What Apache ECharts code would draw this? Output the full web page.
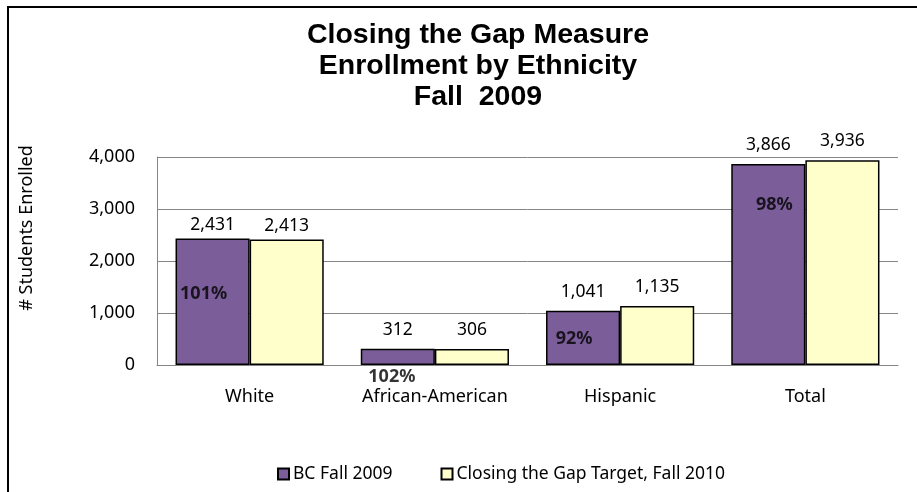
<!DOCTYPE html>
<html>
<head>
<meta charset="utf-8">
<title>Closing the Gap Measure – Enrollment by Ethnicity</title>
<script src="https://cdn.jsdelivr.net/npm/echarts@6/dist/echarts.min.js"></script>
<style>
  html, body { margin: 0; padding: 0; background: #ffffff; }
  #chart { width: 917px; height: 492px; }
</style>
</head>
<body>
<div id="chart"></div>
<script>
// Enrollment counts by ethnicity
const categories = ['White', 'African-American', 'Hispanic', 'Total'];
const bcFall2009 = [2431, 312, 1041, 3866];
const gapTarget2010 = [2413, 306, 1135, 3936];
const seriesNames = ['BC Fall 2009', 'Closing the Gap Target, Fall 2010'];
const yTickValues = [0, 1000, 2000, 3000, 4000];

// Where each "% of target" note sits: value-axis anchor and horizontal nudge (px)
const pctNoteAnchor = [1365, -230, 500, 3077];
const pctNoteShiftX = [-46, -43, -46, -31];

const FONT = '"Noto Sans", "Open Sans", sans-serif';
const fmt = v => v.toLocaleString('en-US');

const chart = echarts.init(document.getElementById('chart'), null, { renderer: 'canvas' });

const valueLabel = (i) => ({
  show: true,
  position: 'top',
  distance: i === 0 ? 5 : 10,
  color: '#000',
  fontFamily: FONT,
  fontSize: 17.5,
  formatter: p => fmt(p.value)
});

chart.setOption({
  animation: false,
  backgroundColor: '#ffffff',
  title: {
    text: 'Closing the Gap Measure\nEnrollment by Ethnicity\nFall  2009',
    left: 478,
    top: 20,
    textAlign: 'center',
    padding: 0,
    textStyle: {
      fontFamily: '"Liberation Sans", Arial, sans-serif',
      fontWeight: 'bold',
      fontSize: 28.5,
      lineHeight: 31,
      color: '#000'
    }
  },
  legend: {
    data: seriesNames,
    left: 272,
    top: 460,
    itemWidth: 11,
    itemHeight: 11,
    itemGap: 48,
    icon: 'rect',
    textStyle: { fontFamily: FONT, fontSize: 17.5, color: '#000', padding: [0, 0, 0, -1] }
  },
  grid: { left: 157, right: 19, top: 157, bottom: 127, containLabel: false },
  xAxis: {
    type: 'category',
    data: categories,
    axisLine: { lineStyle: { color: '#858585', width: 1 } },
    axisTick: { show: false },
    axisLabel: { interval: 0, color: '#000', fontFamily: FONT, fontSize: 18, margin: 23 }
  },
  yAxis: {
    type: 'value',
    min: yTickValues[0],
    max: yTickValues[yTickValues.length - 1],
    interval: yTickValues[1] - yTickValues[0],
    axisLine: { show: true, lineStyle: { color: '#858585', width: 1 } },
    axisTick: { show: false },
    splitLine: { lineStyle: { color: '#858585', width: 1 } },
    axisLabel: { color: '#000', fontFamily: FONT, fontSize: 18, margin: 22, formatter: v => fmt(v) }
  },
  graphic: [
    {
      type: 'rect',
      shape: { x: 8, y: 7, width: 1000, height: 600 },
      style: { fill: 'none', stroke: '#000', lineWidth: 2 },
      silent: true,
      z: 100
    },
    {
      type: 'text',
      x: 27,
      y: 228,
      rotation: Math.PI / 2,
      style: {
        text: '# Students Enrolled',
        fontFamily: FONT,
        fontSize: 18,
        fill: '#000',
        textAlign: 'center',
        textVerticalAlign: 'middle'
      }
    }
  ],
  series: [
    {
      name: seriesNames[0],
      type: 'bar',
      barGap: '0%',
      barCategoryGap: '20%',
      itemStyle: { color: '#7b5e99', borderColor: '#000', borderWidth: 1.5 },
      data: bcFall2009.map((v, i) => ({ value: v, label: valueLabel(i) }))
    },
    {
      name: seriesNames[1],
      type: 'bar',
      itemStyle: { color: '#ffffcc', borderColor: '#000', borderWidth: 1.5 },
      data: gapTarget2010.map((v, i) => ({ value: v, label: valueLabel(i) }))
    },
    {
      // share of target reached, placed over the BC bars
      name: 'pct',
      type: 'scatter',
      symbolSize: 0,
      clip: false,
      silent: true,
      z: 5,
      data: categories.map((c, i) => ({
        value: [i, pctNoteAnchor[i]],
        label: {
          show: true,
          position: 'inside',
          offset: [pctNoteShiftX[i], 0],
          formatter: () => Math.round(bcFall2009[i] / gapTarget2010[i] * 100) + '%',
          color: '#000',
          fontFamily: FONT,
          fontWeight: 'bold',
          fontSize: 18
        }
      }))
    }
  ]
});
</script>
</body>
</html>
